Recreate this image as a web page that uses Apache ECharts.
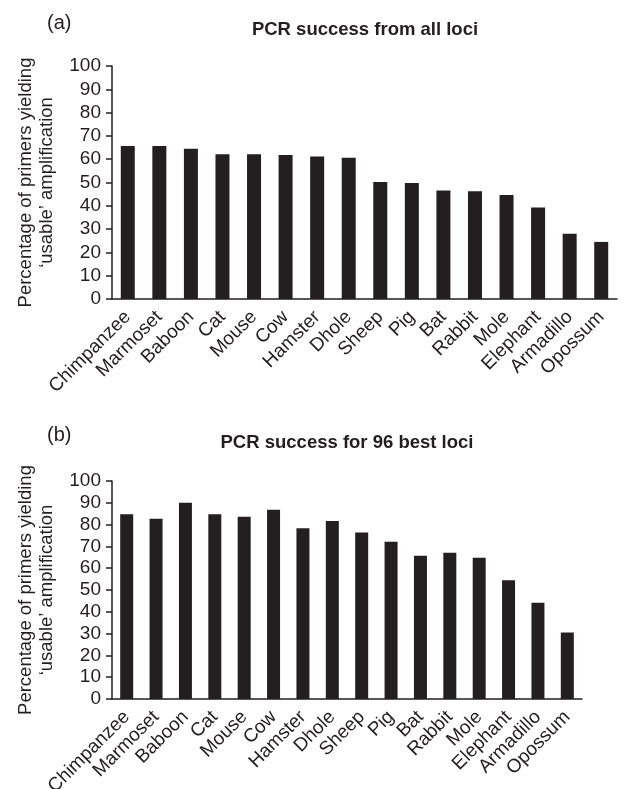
<!DOCTYPE html>
<html>
<head>
<meta charset="utf-8">
<script src="https://cdn.jsdelivr.net/npm/echarts@6/dist/echarts.min.js"></script>
<style>
  html, body { margin: 0; padding: 0; background: #fff; }
  #chart { width: 626px; height: 789px; }
</style>
</head>
<body>
<div id="chart"></div>
<script>
const species = ['Chimpanzee', 'Marmoset', 'Baboon', 'Cat', 'Mouse', 'Cow', 'Hamster', 'Dhole',
    'Sheep', 'Pig', 'Bat', 'Rabbit', 'Mole', 'Elephant', 'Armadillo', 'Opossum'];
const allLoci = [65.7, 65.7, 64.5, 62.1, 62.1, 61.8, 61.2, 60.6, 50.2, 49.8, 46.6, 46.2, 44.6, 39.3, 28.0, 24.5];
const bestLoci = [84.8, 82.7, 90.0, 84.8, 83.6, 86.8, 78.3, 81.6, 76.4, 72.1, 65.7, 67.1, 64.8, 54.5, 44.1, 30.5];
const yTicks = [0, 100, 10];
const yName = 'Percentage of primers yielding\n\u2018usable\u2019 amplification';

const ink = '#231f20';
const font = 'Liberation Sans, Arial, Helvetica, sans-serif';

function xAxisFor(gridIndex) {
    return {
        type: 'category',
        gridIndex: gridIndex,
        data: species,
        axisLine: { lineStyle: { color: ink, width: 1.5 } },
        axisTick: { length: 5, lineStyle: { color: ink, width: 1.5 } },
        axisLabel: {
            interval: 0,
            rotate: 45,
            margin: 15,
            color: ink,
            fontFamily: font,
            fontSize: 19
        }
    };
}

function yAxisFor(gridIndex) {
    return {
        type: 'value',
        gridIndex: gridIndex,
        min: yTicks[0],
        max: yTicks[1],
        interval: yTicks[2],
        splitLine: { show: false },
        axisLine: { show: true, lineStyle: { color: ink, width: 1.5 } },
        axisTick: { show: true, length: 6, lineStyle: { color: ink, width: 1.5 } },
        axisLabel: { margin: 11, color: ink, fontFamily: font, fontSize: 19 },
        name: yName,
        nameLocation: 'middle',
        nameGap: 55,
        nameTextStyle: { color: ink, fontFamily: font, fontSize: 18.5, lineHeight: 21 }
    };
}

const titleStyle = { color: ink, fontFamily: font, fontSize: 18.5, fontWeight: 'bold' };
const panelStyle = { color: ink, fontFamily: font, fontSize: 20, fontWeight: 'normal' };

const chart = echarts.init(document.getElementById('chart'));
chart.setOption({
    animation: false,
    backgroundColor: '#fff',
    title: [
        { text: '(a)', left: 47, top: 13, padding: 0, textStyle: panelStyle },
        { text: 'PCR success from all loci', left: 365, top: 20, padding: 0, textAlign: 'center', textStyle: titleStyle },
        { text: '(b)', left: 47, top: 425, padding: 0, textStyle: panelStyle },
        { text: 'PCR success for 96 best loci', left: 347, top: 433, padding: 0, textAlign: 'center', textStyle: titleStyle }
    ],
    grid: [
        { left: 112, top: 66, width: 505, height: 233, outerBoundsMode: 'none' },
        { left: 112, top: 481, width: 470, height: 218, outerBoundsMode: 'none' }
    ],
    xAxis: [xAxisFor(0), xAxisFor(1)],
    yAxis: [yAxisFor(0), yAxisFor(1)],
    series: [
        {
            type: 'bar',
            xAxisIndex: 0,
            yAxisIndex: 0,
            data: allLoci,
            barWidth: 14,
            itemStyle: { color: ink }
        },
        {
            type: 'bar',
            xAxisIndex: 1,
            yAxisIndex: 1,
            data: bestLoci,
            barWidth: 13,
            itemStyle: { color: ink }
        }
    ]
});
</script>
</body>
</html>
